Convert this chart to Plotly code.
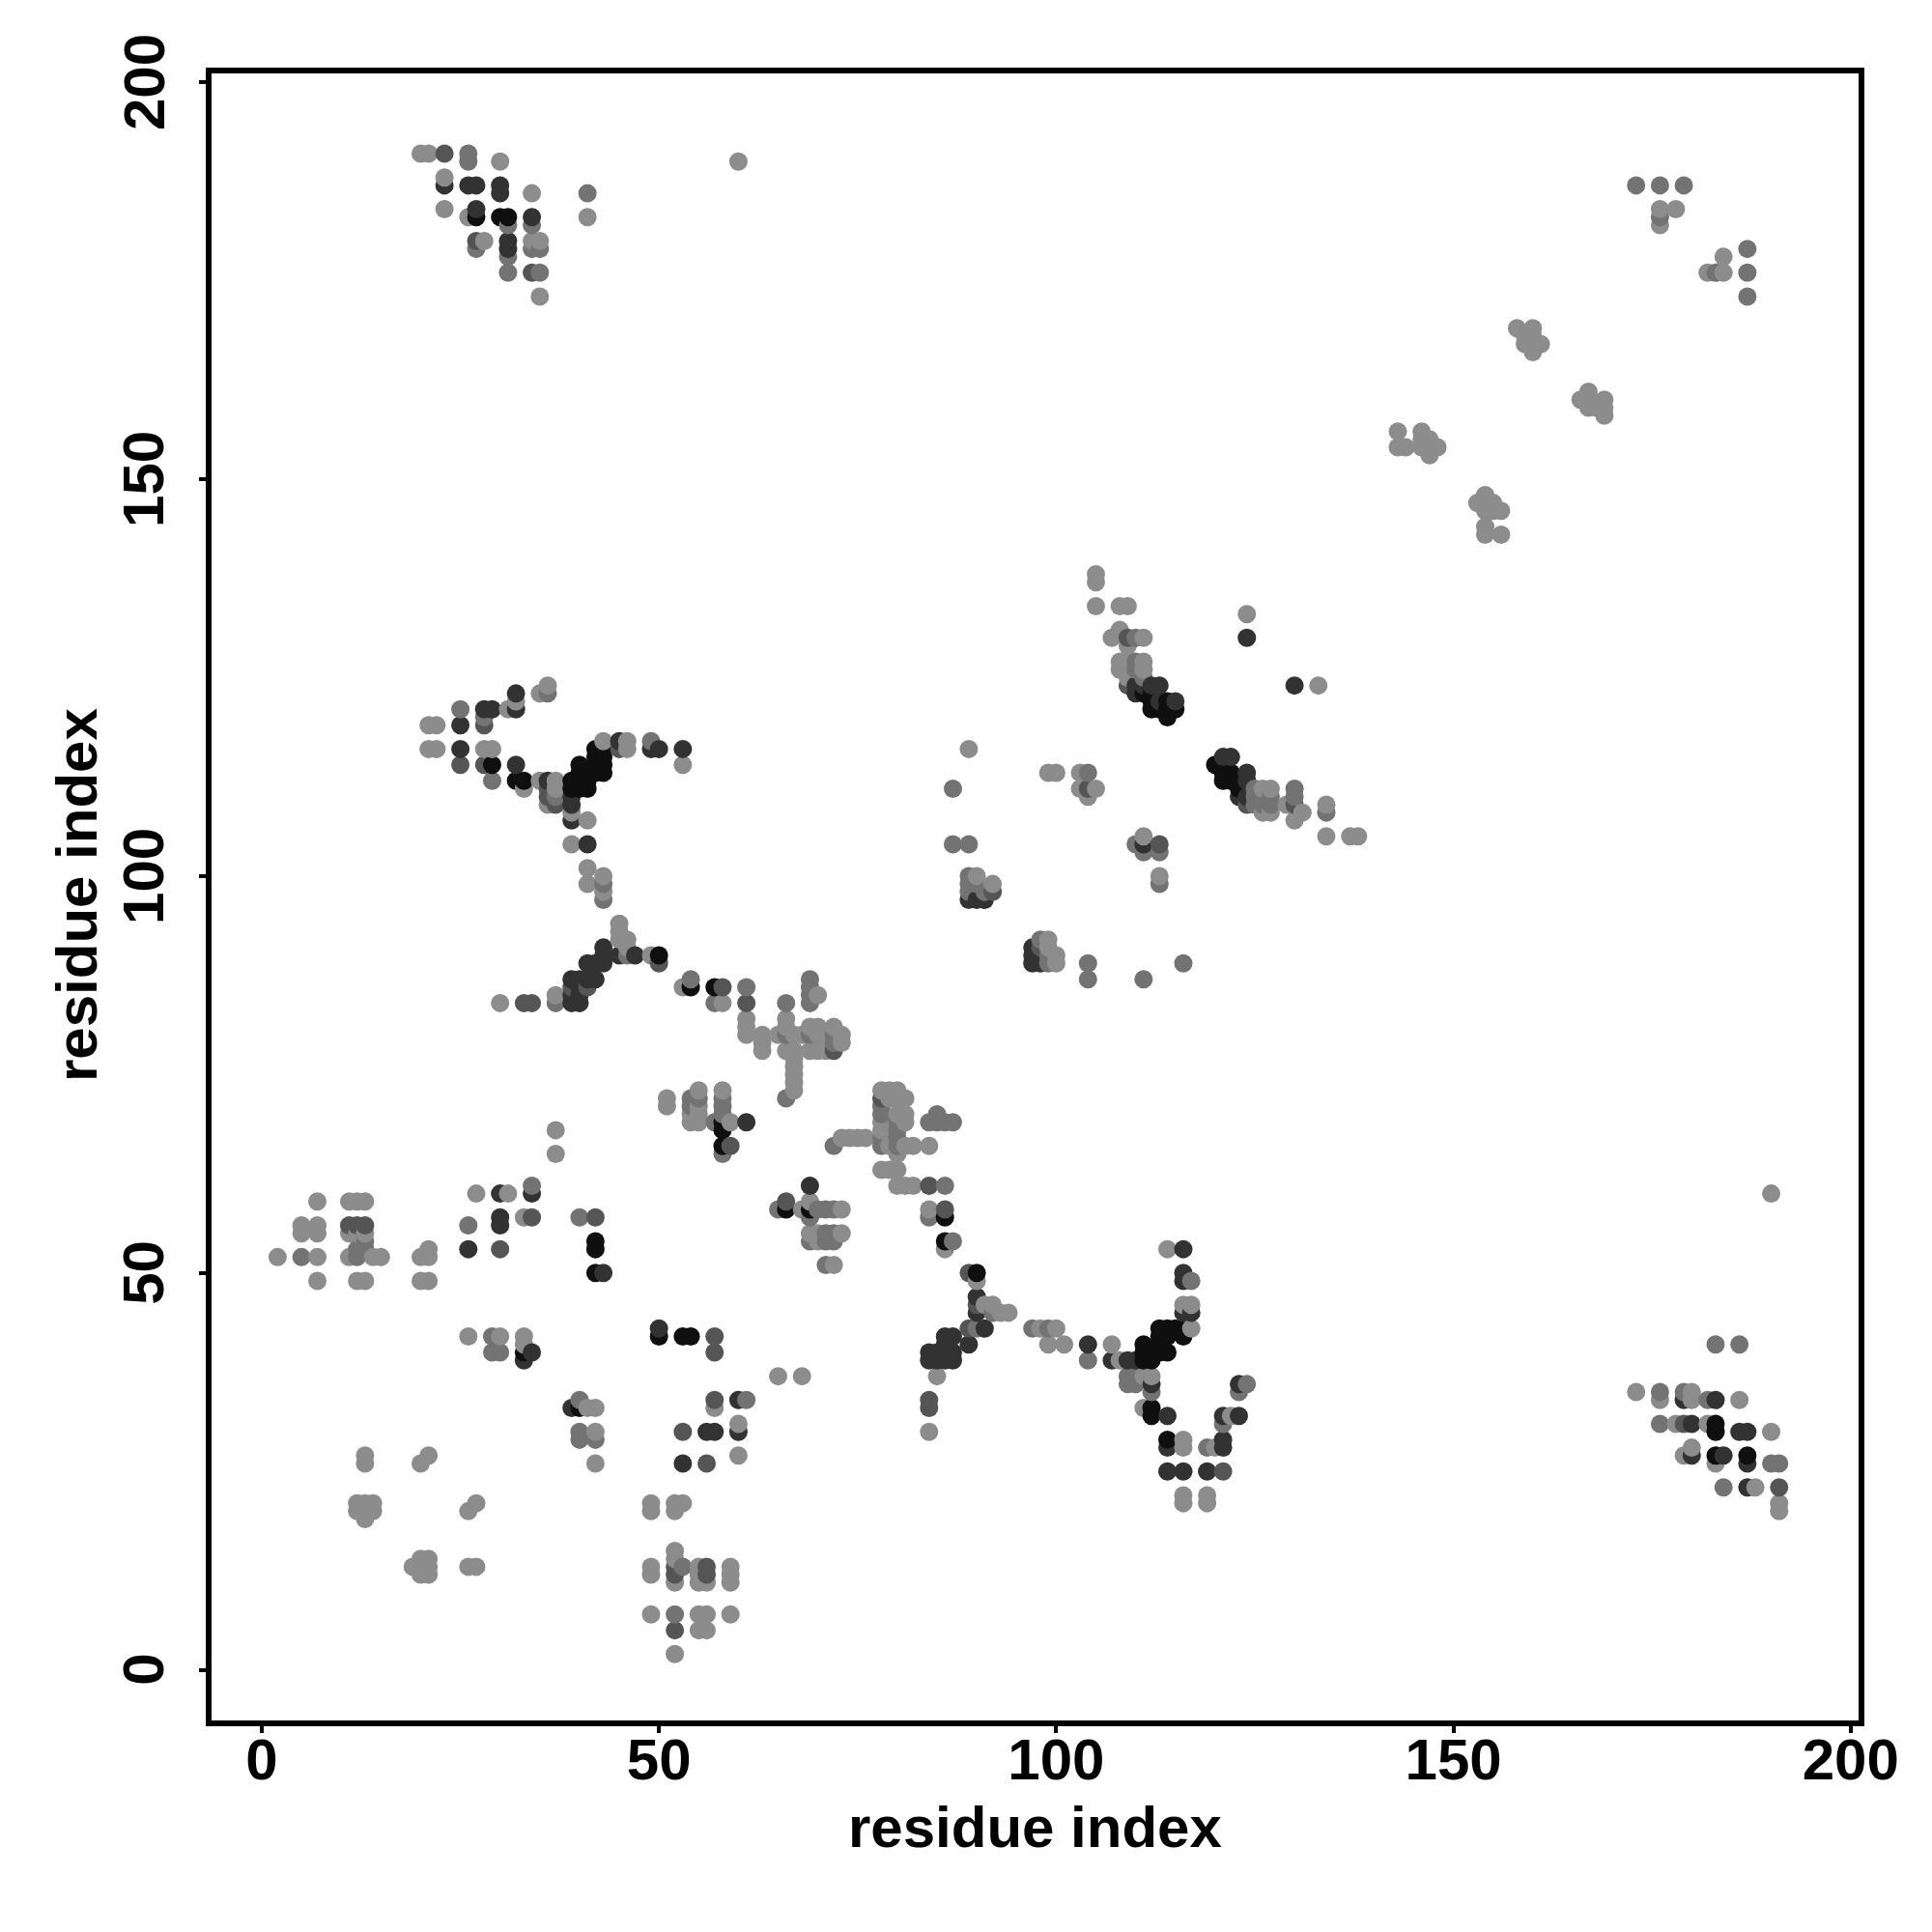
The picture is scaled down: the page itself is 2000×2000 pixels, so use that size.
import plotly.graph_objects as go

light = [
 (2,52),(5,56),(7,56),(5,55),(7,55),(11,55),(12,55),(13,55),(7,59),(11,59),(12,59),(13,59),(11,52),(14,52),(15,52),(7,52),(7,49),(12,49),(13,49),(20,49),(21,49),(20,52),(21,52),(21,53),
 (27,60),(31,60),(33,57),(37,65),(37,68),(41,33),(42,33),(42,30),(42,26),(26,42),(30,42),(33,42),(33,41),
 (13,27),(13,26),(20,26),(21,27),(12,21),(13,21),(14,21),(12,20),(13,20),(14,20),(13,19),(27,21),(26,20),(19,13),(20,14),(21,14),(20,13),(21,13),(20,12),(21,12),(26,13),(27,13),
 (49,21),(49,20),(52,21),(53,21),(52,20),(52,15),(52,14),(49,13),(49,12),(52,11),(55,13),(55,12),(55,11),(56,11),(59,13),(59,12),(59,11),(49,7),(55,7),(56,7),(59,7),(55,5),(56,5),(52,2),
 (65,37),(68,37),(57,33),(60,31),(60,27),(51,72),(55,73),(54,70),(55,70),(54,69),(55,69),(58,73),(59,69),(51,71),(55,71),
 (68,58),(69,59),(73,58),(69,55),(73,55),(70,55),(70,54),(72,51),(67,73),(67,74),(67,75),(67,76),(67,77),
 (78,73),(79,73),(80,73),(79,72),(80,72),(81,72),(80,70),(81,70),(81,69),(80,65),(78,69),(78,68),(73,67),(74,67),(75,67),(76,67),(79,66),(81,66),(82,66),(84,66),
 (78,63),(79,63),(80,63),(80,61),(81,61),(82,61),(84,58),(86,53),(90,49),(85,37),(84,30),
 (61,82),(61,81),(61,80),(63,80),(63,79),(63,78),(66,82),(66,81),(65,80),(67,80),(68,80),(66,78),(67,78),(69,81),(70,81),(70,80),(69,78),(70,78),(71,78),(72,81),(73,80),(73,79),(71,80),(70,85),
 (91,46),(92,46),(93,45),(94,45),(98,43),(100,43),(99,41),(101,41),(107,41),(108,39),(111,37),(112,37),(111,33),(116,29),(116,28),(120,28),(114,53),(117,46),(116,46),(117,43),(116,22),(116,21),(119,22),(119,21),(122,32),
 (21,119),(22,119),(21,116),(22,116),(28,116),(29,116),(31,121),(32,122),(35,123),(36,124),(33,111),(35,112),(37,112),(37,111),(36,109),(39,108),(41,107),(39,104),(43,117),(46,117),(46,116),(53,114),
 (41,101),(41,99),(43,100),(43,98),(45,94),(45,93),(45,92),(46,92),(46,91),(49,90),(37,85),(30,84),(53,86),(58,84),
 (20,191),(21,191),(30,190),(23,188),(23,184),(26,183),(28,180),(34,186),(41,183),(34,180),(35,180),(34,176),(35,173),(60,190),
 (105,138),(105,137),(105,134),(108,134),(109,134),(108,131),(107,130),(111,130),(109,129),(108,127),(108,126),(109,127),(111,127),(109,126),(111,126),(109,125),
 (99,113),(100,113),(103,113),(103,111),(105,111),(104,110),(124,133),(133,124),(127,111),(126,111),(126,108),(127,108),(129,109),(131,108),(130,107),(134,109),(134,105),(137,105),(138,105),
 (111,105),(113,100),(90,100),(92,99),(99,92),(100,90),(100,89),(99,91),(89,116),
 (180,35),(176,34),(180,34),(186,34),(178,31),(182,31),(190,30),(180,28),(179,27),(183,26),(188,23),(191,21),(191,20),(173,35),(190,60),
 (182,176),(184,178),(184,176),(178,184),(176,184),(176,182),
 (158,169),(160,169),(159,168),(160,168),(159,167),(160,167),(161,167),(160,166),
 (167,161),(166,160),(167,160),(169,160),(167,159),(168,159),(169,159),(169,158),
 (143,156),(146,156),(147,155),(143,154),(144,154),(146,154),(147,154),(148,154),(147,153),(146,155),
 (154,148),(153,147),(154,147),(155,147),(154,146),(155,146),(156,146),(154,144),(154,143),(156,143),
]
mid = [
 (12,53),(13,53),(13,54),(12,52),(5,52),(26,56),(34,61),(40,57),(29,42),(29,40),(30,40),(40,34),(40,30),(40,29),(42,29),(53,13),(52,7),(61,34),
 (54,72),(55,72),(54,71),(58,72),(58,71),(58,70),(57,69),(58,65),(66,72),(65,58),(69,57),(70,58),(71,58),(72,58),(69,54),(71,55),(72,55),(71,54),(72,54),(71,51),
 (72,66),(84,69),(85,70),(85,69),(86,69),(87,69),(86,61),(84,57),(87,54),(61,86),(66,84),(66,80),(69,87),(69,86),(69,85),(69,84),(72,80),(72,79),(69,80),
 (78,71),(78,70),(78,67),(78,66),(80,69),(80,68),(80,67),(80,66),
 (90,43),(92,45),(97,43),(99,43),(104,39),(109,37),(109,36),(110,37),(110,36),(112,35),(119,28),(117,49),(123,35),(124,36),(121,31),
 (25,121),(28,120),(29,112),(36,123),(37,110),(49,117),(43,99),(43,97),(46,90),(57,84),(54,87),(37,84),
 (26,191),(26,190),(41,186),(31,182),(34,182),(27,179),(31,178),(34,179),(35,179),(31,176),(35,176),
 (110,130),(110,127),(110,126),(111,125),(87,111),(87,104),(89,104),(125,111),(125,110),(126,110),(127,110),(126,109),(127,109),(125,109),(130,111),(130,110),(134,108),
 (110,104),(111,103),(113,103),(113,99),(89,100),(89,99),(90,99),(89,98),(91,98),(98,92),(99,90),(99,89),(104,89),(104,87),(111,87),(116,89),(104,113),(91,97),
 (183,41),(186,41),(176,35),(179,35),(182,34),(176,31),(190,26),(191,26),(184,23),
 (173,187),(176,187),(179,187),(176,183),(187,179),(183,176),(187,176),(187,173),
]
middark = [
 (11,56),(12,56),(13,56),(30,53),(34,57),(42,57),(53,30),(57,34),(56,26),(57,40),(57,42),(52,12),(52,13),(52,5),(56,13),(56,12),
 (66,59),(59,66),(84,34),(84,33),(84,61),(86,58),(72,78),(89,50),(90,46),(89,43),(78,72),
 (25,114),(28,119),(28,114),(36,111),(36,110),(37,109),(45,116),(50,89),(39,86),(41,86),(61,84),(58,86),
 (23,191),(27,180),(109,130),(121,25),(113,104),(104,111),(109,124),(130,109),(124,109),(179,31),(191,23),(34,176),(92,98),(98,91),
 (33,84),(34,84),
]
dark = [
 (30,60),(34,60),(30,57),(30,56),(26,53),(33,39),(39,33),(53,26),(50,43),(60,34),(60,30),(56,30),(57,30),(69,61),(61,69),(43,50),(34,40),(90,47),(90,45),(91,43),(89,41),(86,42),(87,42),(86,41),(87,40),(84,40),(84,39),(85,40),(85,39),(86,40),(86,39),(87,39),
 (104,41),(107,39),(109,39),(110,39),(116,53),(116,50),(116,49),(116,45),(117,45),(112,36),(114,32),(114,28),(114,25),(116,25),(119,25),(121,29),(121,28),(121,32),(123,32),(123,36),
 (25,119),(25,116),(28,121),(29,121),(32,123),(32,121),(32,114),(36,112),(39,110),(39,109),(39,107),(41,104),(45,117),(49,116),(50,116),(53,116),
 (45,90),(47,90),(43,91),(43,90),(43,89),(42,89),(41,89),(39,87),(40,87),(41,87),(42,87),(40,86),(39,85),(40,85),(39,84),(40,84),
 (23,187),(26,187),(27,187),(30,187),(30,186),(27,184),(34,183),(31,180),(31,179),
 (110,124),(110,123),(111,124),(112,124),(113,124),(113,122),(115,122),(124,113),(121,115),(122,115),(124,112),(123,110),(124,110),(124,130),(130,124),(111,104),(89,97),(90,97),(91,97),(97,91),(97,90),(97,89),(98,89),
 (179,34),(183,34),(180,31),(186,30),(187,30),(180,27),(184,27),(187,26),(187,23),
]
black = [
 (42,54),(42,53),(42,50),(50,42),(53,42),(54,42),(33,40),(40,33),(58,69),(58,68),(58,66),(66,58),(69,58),(86,57),(86,54),(90,50),
 (111,41),(111,40),(111,39),(112,40),(112,39),(113,41),(113,43),(114,43),(114,42),(114,40),(113,40),(113,42),(115,43),(116,42),(116,43),(112,33),(112,32),(114,29),
 (29,114),(32,112),(33,112),(39,112),(39,111),(40,114),(40,113),(40,112),(40,111),(41,113),(41,112),(41,111),(42,116),(42,115),(42,114),(42,113),(43,116),(43,115),(43,114),(43,113),(50,90),(54,86),(57,86),
 (27,183),(30,183),(31,183),
 (111,123),(112,123),(112,122),(112,121),(113,121),(114,122),(114,121),(114,120),(115,121),(120,114),(121,114),(121,113),(121,112),(122,113),(122,112),(123,112),(123,111),
 (183,31),(183,30),(183,27),(187,27),
]
shades = [(light, 140), (mid, 115), (middark, 85), (dark, 50), (black, 15)]
x_ticks = [0, 50, 100, 150, 200]
y_ticks = [0, 50, 100, 150, 200]
axis_label = "residue index"

cells = {}
for pts, g in shades:
    for p in pts:
        cells[p] = g
order = sorted(cells)
xs = [p[0] for p in order]
ys = [p[1] for p in order]
cols = [f"rgb({cells[p]},{cells[p]},{cells[p]})" for p in order]

FONT = "Liberation Sans"
W, H = 2000, 2000
L, R, T, B = 211, 1916, 68, 1773
bold = dict(family=FONT, size=60, color="black", weight="bold")

fig = go.Figure(go.Scatter(x=xs, y=ys, mode="markers", cliponaxis=False,
    marker=dict(size=19, color=cols, line=dict(width=0))))
common = dict(showgrid=False, zeroline=False, showline=True, linecolor="black", linewidth=6,
              mirror=True, ticks="outside", ticklen=7, tickwidth=4, tickcolor="black",
              tickmode="array", tickfont=bold)
fig.update_xaxes(range=[-6.32, 201.0], tickvals=x_ticks, ticktext=[str(v) for v in x_ticks],
                 ticklabelstandoff=-24, **common)
fig.update_yaxes(range=[-6.36, 201.1], tickvals=y_ticks, showticklabels=False, **common)
fig.update_layout(width=W, height=H, plot_bgcolor="white", paper_bgcolor="white", showlegend=False,
                  margin=dict(l=L, r=W-R, t=T, b=H-B, autoexpand=False))
px = lambda v: (v-L)/(R-L)
py = lambda v: (B-v)/(B-T)
for v in y_ticks:
    fig.add_annotation(text=str(v), x=px(141), y=v, xref="paper", yref="y", showarrow=False, textangle=-90,
                       font=bold, xanchor="center", yanchor="middle")
fig.add_annotation(text=axis_label, x=px(1063), y=py(1883), xref="paper", yref="paper", showarrow=False,
                   font=bold, xanchor="center", yanchor="middle")
fig.add_annotation(text=axis_label, x=px(71), y=py(919), xref="paper", yref="paper", showarrow=False, textangle=-90,
                   font=bold, xanchor="center", yanchor="middle")
fig.write_html("out.html")
